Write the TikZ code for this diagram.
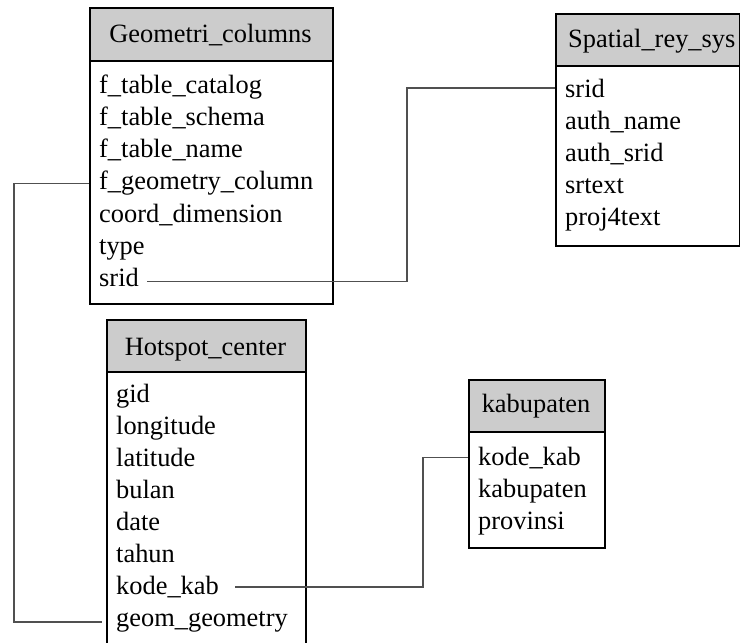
\documentclass[tikz,border=0pt]{standalone}
\usepackage{fontspec}
\setmainfont{Liberation Serif}
\begin{document}
\begin{tikzpicture}[x=1pt,y=-1pt,
  hdr/.style={draw=black,line width=1.5pt,fill=hdrgray,anchor=north west,inner sep=0pt},
  bodybox/.style={draw=black,line width=1.5pt,fill=white,anchor=north west,inner sep=0pt},
  title/.style={anchor=base,inner sep=0pt,font=\fontsize{26.4}{32}\selectfont},
  row/.style={anchor=base west,inner sep=0pt,font=\fontsize{26.4}{32}\selectfont},
  conn/.style={draw=conngray,line width=1.3pt}]
\definecolor{hdrgray}{HTML}{CCCCCC}
\definecolor{conngray}{HTML}{505050}
\clip (0,0) rectangle (740,643);
\fill[white] (0,0) rectangle (740,643);

% Geometri_columns
\node[hdr,minimum width=243pt,minimum height=53pt] (gch) at (89,7) {};
\node[bodybox,minimum width=243pt,minimum height=243pt] (gcb) at (89,60) {};
\node[title] (gct) at (210.5,42) {Geometri\_columns};
\node[row] (gc1) at (99,93) {f\_table\_catalog};
\node[row] (gc2) at (99,125.3) {f\_table\_schema};
\node[row] (gc3) at (99,157.6) {f\_table\_name};
\node[row] (gc4) at (99,189.9) {f\_geometry\_column};
\node[row] (gc5) at (99,222.2) {coord\_dimension};
\node[row] (gc6) at (99,254.5) {type};
\node[row] (gc7) at (99,286.8) {srid};

% Spatial_rey_sys
\node[hdr,minimum width=184pt,minimum height=52pt] (srh) at (555,13) {};
\node[bodybox,minimum width=184pt,minimum height=180pt] (srb) at (555,65) {};
\node[row] (srt) at (568,47) {Spatial\_rey\_sys};
\node[row] (sr1) at (565,97) {srid};
\node[row] (sr2) at (565,129) {auth\_name};
\node[row] (sr3) at (565,161) {auth\_srid};
\node[row] (sr4) at (565,193) {srtext};
\node[row] (sr5) at (565,225) {proj4text};

% Hotspot_center
\node[hdr,minimum width=199pt,minimum height=52pt] (hch) at (106,319) {};
\node[bodybox,minimum width=199pt,minimum height=300pt] (hcb) at (106,371) {};
\node[title] (hct) at (205.5,355) {Hotspot\_center};
\node[row] (hc1) at (116,402) {gid};
\node[row] (hc2) at (116,434.1) {longitude};
\node[row] (hc3) at (116,466.2) {latitude};
\node[row] (hc4) at (116,498.3) {bulan};
\node[row] (hc5) at (116,530.4) {date};
\node[row] (hc6) at (116,562.5) {tahun};
\node[row] (hc7) at (116,594.6) {kode\_kab};
\node[row] (hc8) at (116,626.7) {geom\_geometry};

% kabupaten
\node[hdr,minimum width=136pt,minimum height=52pt] (kbh) at (468,379) {};
\node[bodybox,minimum width=136pt,minimum height=116pt] (kbb) at (468,431) {};
\node[title] (kbt) at (536,412) {kabupaten};
\node[row] (kb1) at (478,465) {kode\_kab};
\node[row] (kb2) at (478,497) {kabupaten};
\node[row] (kb3) at (478,529) {provinsi};

% connectors
\coordinate (e1) at (407,0);
\coordinate (e2) at (14,0);
\coordinate (e3) at (423,0);
\draw[conn] ([xshift=8pt,yshift=-4pt]gc7.east) -| (e1 |- sr1) -- (srb.west |- sr1);
\draw[conn] (gcb.west |- gc4) -| (e2 |- hc8) -- ([xshift=-4pt]hcb.west |- hc8);
\draw[conn] ([xshift=16pt]hc7.east) -| (e3 |- kb1) -- (kbb.west |- kb1);
\end{tikzpicture}
\end{document}
